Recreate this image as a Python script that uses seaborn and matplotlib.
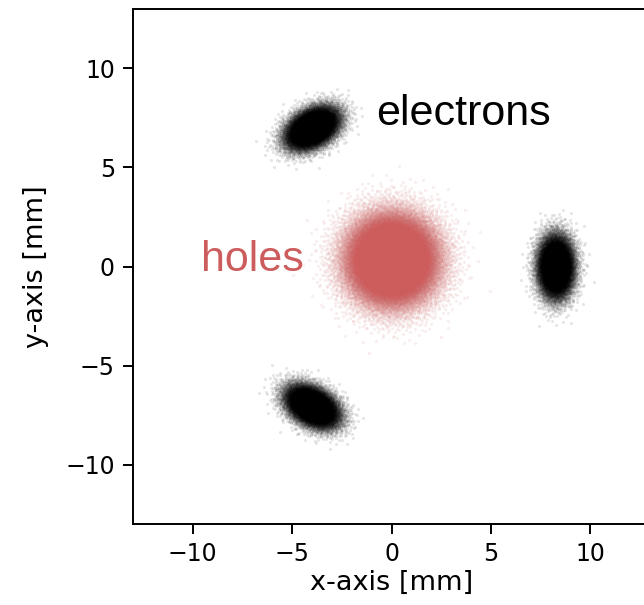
import numpy as np
import pandas as pd
import seaborn as sns
import matplotlib
matplotlib.use("Agg")
import matplotlib.pyplot as plt

# ---- data: cloud parameters (mm) ----
cloud_names = ["electrons", "electrons", "electrons", "holes"]
cloud_cx = [-4.0, 8.25, -4.0, 0.0]
cloud_cy = [7.0, 0.0, -7.05, 0.35]
cloud_sig_major = [0.72, 0.78, 0.72, 1.1]
cloud_sig_minor = [0.45, 0.45, 0.45, 1.1]
cloud_angle_deg = [30.0, 90.0, -30.0, 0.0]
cloud_counts = [12000, 12000, 12000, 40000]

label_text = ["electrons", "holes"]
label_x = [-0.75, -9.6]
label_y = [7.7, 0.35]
label_colors = ["black", "indianred"]

xticks = [-10, -5, 0, 5, 10]
yticks = [-10, -5, 0, 5, 10]


def radical_inverse(n, base):
    out = np.zeros(n)
    idx = np.arange(1, n + 1)
    f = 1.0 / base
    while np.any(idx > 0):
        out += f * (idx % base)
        idx = idx // base
        f /= base
    return out


frames = []
for name, cx, cy, sa, sb, ang, n in zip(cloud_names, cloud_cx, cloud_cy,
                                         cloud_sig_major, cloud_sig_minor,
                                         cloud_angle_deg, cloud_counts):
    u1 = radical_inverse(n, 2)
    u2 = radical_inverse(n, 3)
    r = np.sqrt(-2.0 * np.log(u1))
    a = r * np.cos(2 * np.pi * u2) * sa
    b = r * np.sin(2 * np.pi * u2) * sb
    t = np.deg2rad(ang)
    x = cx + a * np.cos(t) - b * np.sin(t)
    y = cy + a * np.sin(t) + b * np.cos(t)
    frames.append(pd.DataFrame({"x": x, "y": y, "kind": name}))
df = pd.concat(frames, ignore_index=True)

plt.rcParams["font.family"] = ["DejaVu Sans"]
fig = plt.figure(figsize=(6.44, 6.05), dpi=100)
ax = fig.add_axes([133 / 644, (605 - 524) / 605, 517 / 644, 515 / 605])

sns.scatterplot(data=df[df.kind == "holes"], x="x", y="y", color="indianred",
                s=5, alpha=0.1, linewidth=0, ax=ax, legend=False)
sns.scatterplot(data=df[df.kind == "electrons"], x="x", y="y", color="black",
                s=5, alpha=0.1, linewidth=0, ax=ax, legend=False)

ax.set_xlim(-13, 13)
ax.set_ylim(-13, 13)
ax.set_xticks(xticks)
ax.set_yticks(yticks)
ax.set_xticklabels(["\u2212" + str(abs(v)) if v < 0 else str(v) for v in xticks])
ax.set_yticklabels(["\u2212" + str(abs(v)) if v < 0 else str(v) for v in yticks])
ax.tick_params(labelsize=17, length=7, width=1.4, pad=6)
for sp in ax.spines.values():
    sp.set_linewidth(1.4)
ax.set_xlabel("x-axis [mm]", fontsize=19.5, labelpad=3)
ax.set_ylabel("y-axis [mm]", fontsize=19.5, labelpad=12)

for txt, tx, ty, col in zip(label_text, label_x, label_y, label_colors):
    ax.text(tx, ty, txt, color=col, fontsize=31, family=["Liberation Sans"],
            ha="left", va="center")

fig.savefig("out.png", dpi=100)
